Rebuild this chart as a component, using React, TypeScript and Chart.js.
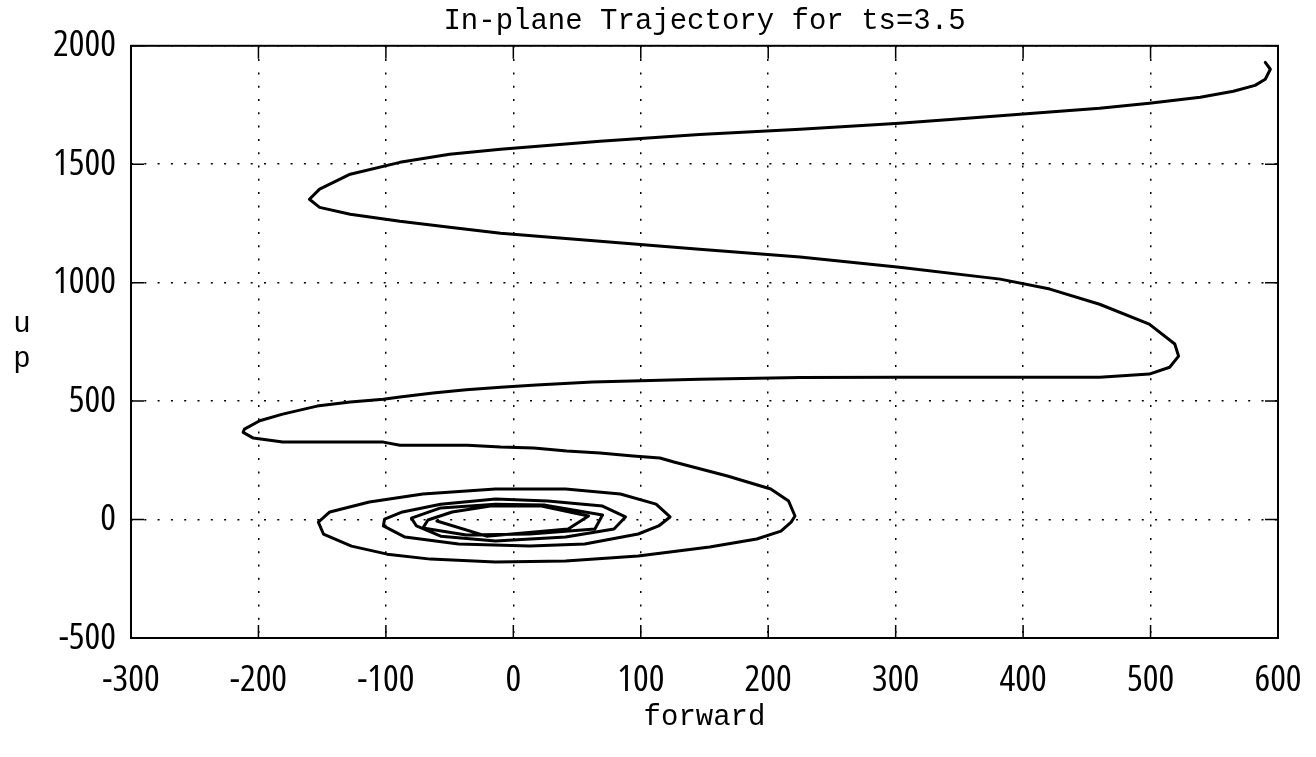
import React, { useEffect, useRef } from 'react';
import { Chart, registerables } from 'chart.js';

Chart.register(...registerables);

const TITLE = 'In-plane Trajectory for ts=3.5';
const X_LABEL = 'forward';
const Y_LABEL_LETTERS = ['u', 'p'];
const X_MIN = -300;
const X_MAX = 600;
const X_STEP = 100;
const Y_MIN = -500;
const Y_MAX = 2000;
const Y_STEP = 500;

// trajectory, "forward" coordinate
const forward = [
  590, 594, 590, 582, 565, 539, 499, 460, 408, 356, 303, 225, 146, 68, -10, -50, -89, -128, -152, -160,
  -152, -128, -89, -50, -10, 68, 146, 225, 303, 382, 421, 460, 499, 519, 522, 515, 499, 460, 382, 303,
  225, 146, 100, 62, 18, -10, -37, -63, -89, -102, -128, -154, -181, -199, -211, -212,
  -204, -181, -142, -102, -89, -36, -10, 16, 42, 68, 94, 115, 126, 168, 202, 216, 221,
  218, 210, 191, 154, 98, 41, -14, -65, -99, -127, -149, -153,
  -144, -113, -71, -14, 41, 84, 112, 123,
  114, 98, 56, 13, -43, -85, -102, -101,
  -87, -57, -14, 27, 70, 88,
  79, 41, -14, -57, -76, -80,
  -57, -14, 25, 70,
  64, 13, -37, -71, -67,
  -48, -18, 22, 59,
  43, -21, -60,
];

// trajectory, "up" coordinate
const up = [
  1930, 1901, 1859, 1833, 1808, 1783, 1757, 1736, 1715, 1694, 1673, 1648, 1626, 1597, 1563, 1542, 1508, 1458, 1395, 1352,
  1318, 1289, 1259, 1234, 1209, 1175, 1141, 1108, 1065, 1015, 973, 909, 825, 741, 690, 643, 614, 601, 601, 601,
  600, 592, 586, 581, 568, 559, 548, 534, 517, 508, 496, 479, 445, 417, 382, 368,
  344, 327, 327, 327, 314, 314, 306, 302, 289, 281, 268, 260, 243, 184, 129, 78, 15,
  -11, -49, -82, -116, -154, -175, -179, -167, -146, -112, -61, -11,
  32, 74, 108, 129, 129, 108, 65, 11,
  -27, -61, -103, -112, -103, -74, -27, 2,
  32, 65, 87, 78, 57, 11,
  -40, -74, -91, -70, -27, 6,
  49, 65, 61, 19,
  -40, -61, -65, -36, -2,
  32, 57, 57, 15,
  -40, -70, -6,
];

const MONO = '"Liberation Mono", "DejaVu Sans Mono", monospace';
const TICK_FONT = '"Open Sans"';

const framePlugin = {
  id: 'matlabFrame',
  afterDraw(chart: any) {
    const { ctx, chartArea: a, scales } = chart;
    ctx.save();
    ctx.strokeStyle = '#000';
    ctx.lineWidth = 2;
    ctx.setLineDash([]);
    ctx.strokeRect(a.left, a.top, a.right - a.left, a.bottom - a.top);
    const L = 13;
    ctx.lineWidth = 1.5;
    ctx.beginPath();
    for (const t of scales.x.ticks) {
      const px = scales.x.getPixelForValue(t.value);
      ctx.moveTo(px, a.bottom);
      ctx.lineTo(px, a.bottom - L);
      ctx.moveTo(px, a.top);
      ctx.lineTo(px, a.top + L);
    }
    for (const t of scales.y.ticks) {
      const py = scales.y.getPixelForValue(t.value);
      ctx.moveTo(a.left, py);
      ctx.lineTo(a.left + L, py);
      ctx.moveTo(a.right, py);
      ctx.lineTo(a.right - L, py);
    }
    ctx.stroke();
    ctx.fillStyle = '#000';
    ctx.font = '29px ' + MONO;
    ctx.textAlign = 'center';
    ctx.textBaseline = 'alphabetic';
    ctx.fillText(Y_LABEL_LETTERS[0], 22, 332);
    ctx.fillText(Y_LABEL_LETTERS[1], 22, 367);
    ctx.restore();
  },
};

const tickText = (v: any) => String(v);

export default function App() {
  const ref = useRef<HTMLCanvasElement>(null);

  useEffect(() => {
    if (!ref.current) return;
    const points = forward.map((x, i) => ({ x, y: up[i] }));
    const chart = new Chart(ref.current, {
      type: 'scatter',
      data: {
        datasets: [
          {
            data: points,
            showLine: true,
            borderColor: '#000',
            backgroundColor: '#000',
            borderWidth: 3,
            pointRadius: 0,
            tension: 0,
            borderJoinStyle: 'round',
            borderCapStyle: 'round',
          } as any,
        ],
      },
      options: {
        animation: false,
        responsive: false,
        maintainAspectRatio: false,
        layout: { padding: { left: 0, right: 38, top: 0, bottom: 0 } },
        plugins: {
          legend: { display: false },
          tooltip: { enabled: false },
          title: {
            display: true,
            text: TITLE,
            color: '#000',
            fullSize: false,
            font: { family: MONO, size: 29, weight: 'normal' },
            padding: { top: 4, bottom: 7 },
          } as any,
        },
        scales: {
          x: {
            type: 'linear',
            min: X_MIN,
            max: X_MAX,
            ticks: {
              stepSize: X_STEP,
              color: '#000',
              font: { family: TICK_FONT, size: 37, weight: 'condensed' },
              padding: 20,
              maxRotation: 0,
              callback: tickText,
            },
            grid: { color: '#000', lineWidth: 1.5, drawTicks: false },
            border: { display: false, dash: [2, 11.3] },
            title: {
              display: true,
              text: X_LABEL,
              color: '#000',
              font: { family: MONO, size: 29 },
              padding: { top: 0, bottom: 22 },
            },
            afterFit(scale: any) {
              scale.height = 119;
              scale.paddingLeft = 0;
              scale.paddingRight = 0;
            },
          },
          y: {
            type: 'linear',
            min: Y_MIN,
            max: Y_MAX,
            ticks: {
              stepSize: Y_STEP,
              color: '#000',
              font: { family: TICK_FONT, size: 37, weight: 'condensed' },
              padding: 15,
              callback: tickText,
            },
            grid: { color: '#000', lineWidth: 1.5, drawTicks: false },
            border: { display: false, dash: [2, 11.3] },
            afterFit(scale: any) {
              scale.width = 131;
              scale.paddingTop = 0;
              scale.paddingBottom = 0;
            },
          },
        },
      } as any,
      plugins: [framePlugin],
    });
    return () => chart.destroy();
  }, []);

  return (
    <div style={{ position: 'fixed', left: 0, top: 0, width: 1316, height: 757, background: '#fff' }}>
      <canvas ref={ref} width={1316} height={757} style={{ display: 'block' }} />
    </div>
  );
}
